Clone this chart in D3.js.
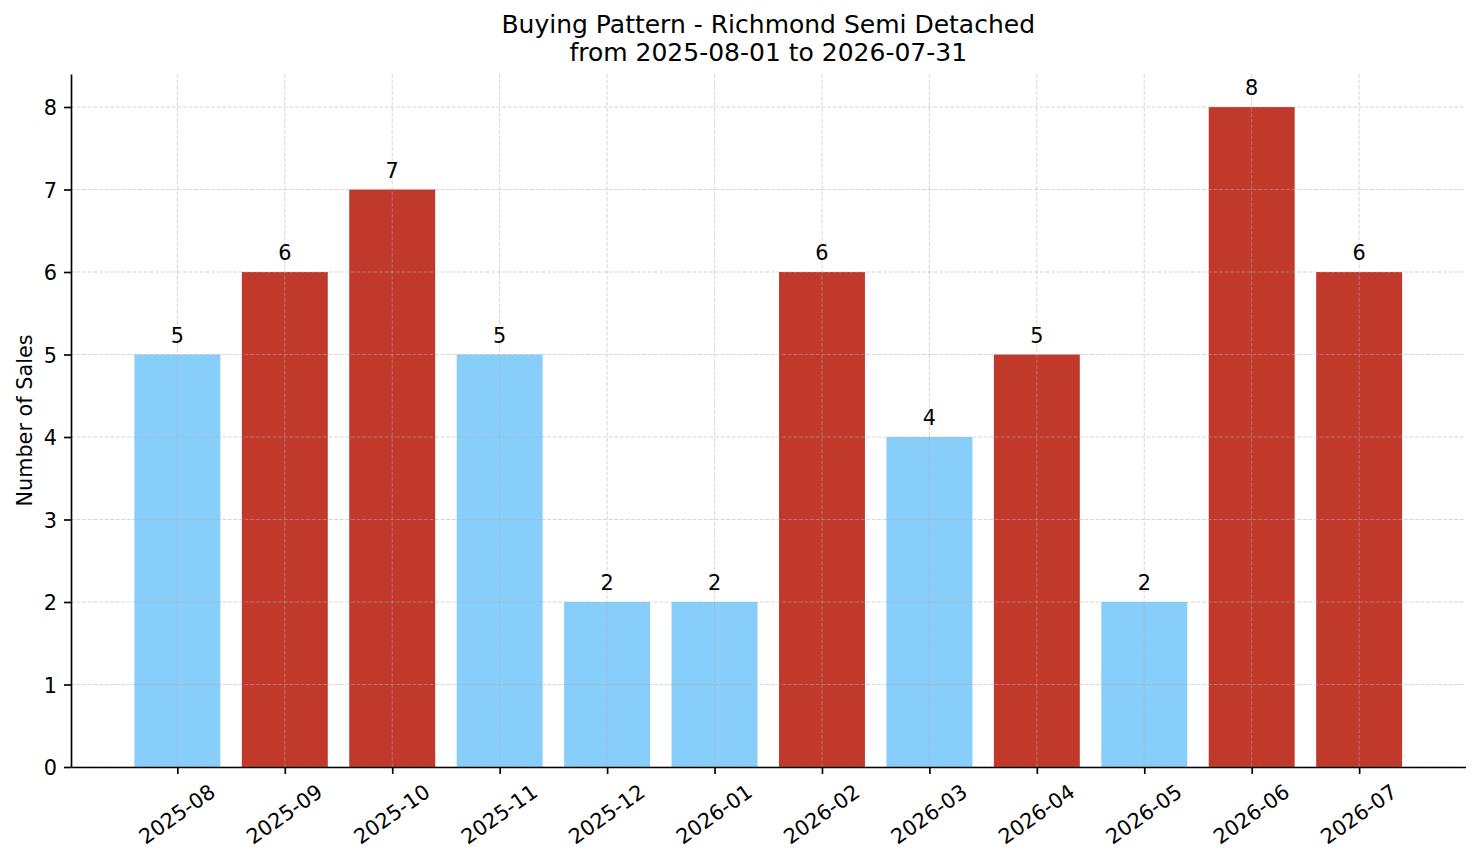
<!DOCTYPE html>
<html>
<head>
<meta charset="utf-8">
<script src="https://cdn.jsdelivr.net/npm/d3@7"></script>
<style>
  html, body { margin: 0; padding: 0; background: #fff; }
  svg { display: block; font-family: "DejaVu Sans", sans-serif; }
</style>
</head>
<body>
<script>
const months = ["2025-08","2025-09","2025-10","2025-11","2025-12","2026-01","2026-02","2026-03","2026-04","2026-05","2026-06","2026-07"];
const sales = [5, 6, 7, 5, 2, 2, 6, 4, 5, 2, 8, 6];
const barColors = ["#87CEFA","#C0392B","#C0392B","#87CEFA","#87CEFA","#87CEFA","#C0392B","#87CEFA","#C0392B","#87CEFA","#C0392B","#C0392B"];
const yTicks = [0, 1, 2, 3, 4, 5, 6, 7, 8];
const titleLines = ["Buying Pattern - Richmond Semi Detached", "from 2025-08-01 to 2026-07-31"];
const yLabel = "Number of Sales";

(function () {
const W = 1481, H = 863;
const mL = 71, mR = 1465.5, mT = 74, mB = 767;

const svg = d3.select("body").append("svg").attr("width", W).attr("height", H);

const x = d3.scaleLinear().domain([-0.99, months.length - 1 + 0.99]).range([mL, mR]);
const y = d3.scaleLinear().domain([0, 8.4]).range([mB, mT]);
const bw = x(0.4) - x(-0.4);

// bars
svg.append("g").selectAll("rect").data(sales).join("rect")
  .attr("x", (d, i) => x(i) - bw / 2)
  .attr("y", d => y(d))
  .attr("width", bw)
  .attr("height", d => y(0) - y(d))
  .attr("fill", (d, i) => barColors[i]);

// grid (drawn over bars, semi-transparent)
const grid = svg.append("g").attr("stroke", "#b0b0b0").attr("stroke-opacity", 0.5)
  .attr("stroke-width", 1).attr("stroke-dasharray", "3.9,1.7");
grid.selectAll("line.h").data(yTicks).join("line").attr("class", "h")
  .attr("x1", mL).attr("x2", mR).attr("y1", d => y(d)).attr("y2", d => y(d));
grid.selectAll("line.v").data(months).join("line").attr("class", "v")
  .attr("x1", (d, i) => x(i)).attr("x2", (d, i) => x(i)).attr("y1", mT).attr("y2", mB);

// value labels
svg.append("g").selectAll("text").data(sales).join("text")
  .attr("x", (d, i) => x(i))
  .attr("y", d => y(d) - 12)
  .attr("text-anchor", "middle")
  .attr("font-size", 20.8)
  .attr("fill", "#000")
  .text(d => d);

// y axis
const yAxis = d3.axisLeft(y).tickValues(yTicks).tickFormat(d3.format("d")).tickSize(7).tickPadding(7).tickSizeOuter(0);
const gy = svg.append("g").attr("transform", `translate(${mL},0)`).call(yAxis);
gy.select(".domain").attr("stroke", "#000").attr("stroke-width", 1.67);
gy.selectAll(".tick line").attr("stroke", "#000").attr("stroke-width", 1.67);
gy.selectAll(".tick text").attr("font-size", 20.8).attr("fill", "#000")
  .attr("font-family", "DejaVu Sans").attr("dy", "0.36em");

// x axis
const xAxis = d3.axisBottom(x).tickValues(d3.range(months.length)).tickFormat(i => months[i]).tickSize(7).tickSizeOuter(0);
const gx = svg.append("g").attr("transform", `translate(0,${mB})`).call(xAxis);
gx.select(".domain").attr("stroke", "#000").attr("stroke-width", 1.67);
gx.selectAll(".tick line").attr("stroke", "#000").attr("stroke-width", 1.67);
const ang = 35 * Math.PI / 180;
gx.selectAll(".tick text")
  .attr("font-size", 20.8).attr("fill", "#000").attr("font-family", "DejaVu Sans")
  .attr("text-anchor", "middle")
  .attr("dy", "0.36em")
  .each(function () {
    const L = this.getComputedTextLength();
    const h = 20.8 * 0.95;
    const cy = 14 + (L * Math.sin(ang) + h * Math.cos(ang)) / 2;
    d3.select(this).attr("y", 0).attr("transform", `translate(-1,${cy}) rotate(-35)`);
  });

// y label
svg.append("text")
  .attr("transform", `translate(31.5,${(mT + mB) / 2}) rotate(-90)`)
  .attr("text-anchor", "middle")
  .attr("font-size", 20.8)
  .attr("fill", "#000")
  .text(yLabel);

// title
svg.append("g").selectAll("text").data(titleLines).join("text")
  .attr("x", (mL + mR) / 2)
  .attr("y", (d, i) => 33 + i * 28)
  .attr("text-anchor", "middle")
  .attr("font-size", 25)
  .attr("fill", "#000")
  .text(d => d);
})();
</script>
</body>
</html>
